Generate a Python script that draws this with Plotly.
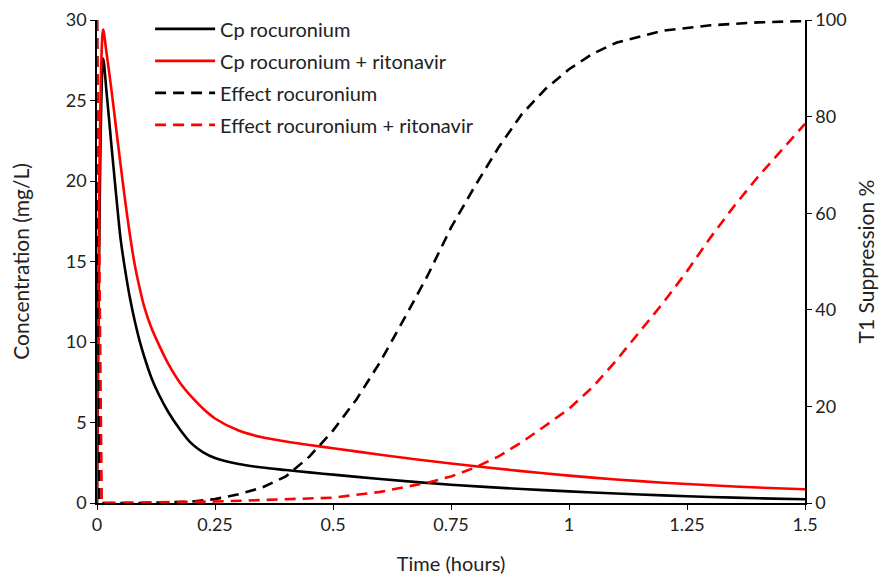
import plotly.graph_objects as go

# Plasma concentration (mg/L)
t_cp = [0, 0.013, 0.02, 0.03, 0.04, 0.05, 0.06, 0.07, 0.08, 0.09, 0.1, 0.115, 0.13,
        0.15, 0.175, 0.2, 0.225, 0.25, 0.3, 0.35, 0.4, 0.45, 0.5, 0.6, 0.75, 0.9,
        1.0, 1.1, 1.2, 1.3, 1.4, 1.5]
cp_roc = [0, 27.6, 25.6, 22.4, 19.3, 16.4, 14.4, 12.7, 11.3, 10.1, 9.1, 7.8, 6.8,
          5.7, 4.6, 3.7, 3.15, 2.8, 2.42, 2.2, 2.05, 1.9, 1.76, 1.49, 1.13, 0.87,
          0.72, 0.59, 0.475, 0.375, 0.295, 0.23]
cp_roc_rtv = [0, 29.4, 28.0, 25.8, 23.4, 21.0, 18.7, 16.6, 14.8, 13.4, 12.2, 10.9, 9.9,
              8.7, 7.5, 6.6, 5.85, 5.25, 4.5, 4.08, 3.82, 3.6, 3.4, 3.0, 2.45, 1.98,
              1.7, 1.46, 1.26, 1.1, 0.96, 0.85]

# T1 suppression (%)
t_eff_roc = [0, 0.005, 0.1, 0.2, 0.25, 0.3, 0.35, 0.4, 0.45, 0.5, 0.55, 0.6, 0.65,
             0.7, 0.75, 0.8, 0.85, 0.9, 0.95, 1.0, 1.05, 1.1, 1.2, 1.3, 1.4, 1.5]
eff_roc = [100, 0, 0, 0.3, 0.8, 1.8, 3.2, 5.5, 9.6, 15.0, 21.5, 29.2, 38.0,
           47.0, 57.0, 65.5, 73.5, 80.5, 85.7, 89.8, 93.0, 95.3, 97.8, 98.9, 99.5, 99.8]
t_eff_rtv = [0, 0.01, 0.25, 0.5, 0.6, 0.7, 0.75, 0.8, 0.85, 0.9, 0.95, 1.0, 1.05,
             1.1, 1.15, 1.2, 1.25, 1.3, 1.35, 1.4, 1.45, 1.5]
eff_rtv = [100, 0, 0.3, 1.1, 2.3, 4.2, 5.5, 7.3, 9.6, 12.6, 16.0, 19.5, 24.0,
           29.5, 35.5, 41.5, 48.0, 55.0, 61.5, 67.5, 73.0, 78.5]

x_ticks = [0, 0.25, 0.5, 0.75, 1, 1.25, 1.5]
x_tick_labels = ["0", "0.25", "0.5", "0.75", "1", "1.25", "1.5"]
y_ticks = [0, 5, 10, 15, 20, 25, 30]
y2_ticks = [0, 20, 40, 60, 80, 100]

FONT = "Lato"
TXT = "#222222"

fig = go.Figure()
fig.add_trace(go.Scatter(x=t_cp, y=cp_roc, mode="lines", name="Cp rocuronium", legendgroup="a",
                         line=dict(color="black", width=2.6, shape="spline", smoothing=0.8)))
fig.add_trace(go.Scatter(x=t_cp, y=cp_roc_rtv, mode="lines", name="Cp rocuronium + ritonavir",
                         legendgroup="b",
                         line=dict(color="#ff0000", width=2.6, shape="spline", smoothing=0.8)))
fig.add_trace(go.Scatter(x=t_eff_roc, y=eff_roc, mode="lines", name="Effect rocuronium",
                         legendgroup="c",
                         line=dict(color="black", width=2.6, dash="11px,7px"), yaxis="y2"))
fig.add_trace(go.Scatter(x=t_eff_rtv, y=eff_rtv, mode="lines", name="Effect rocuronium + ritonavir",
                         legendgroup="d",
                         line=dict(color="#ff0000", width=2.6, dash="11px,7px"), yaxis="y2"))

axis_common = dict(showgrid=False, zeroline=False, showline=True, linecolor="black",
                   linewidth=1.5, ticks="outside", ticklen=5, tickcolor="black",
                   automargin=False,
                   tickfont=dict(family=FONT, size=18, color=TXT))

fig.update_layout(
    width=883, height=568,
    margin=dict(l=89, r=86, t=12, b=73, autoexpand=False),
    paper_bgcolor="white", plot_bgcolor="white",
    font=dict(family=FONT, size=18, color=TXT),
    xaxis=dict(range=[0, 1.5], tickvals=x_ticks, ticktext=x_tick_labels,
               title=dict(text="Time (hours)", font=dict(family=FONT, size=20, color=TXT), standoff=23),
               **axis_common),
    yaxis=dict(range=[0, 30], tickvals=y_ticks,
               title=dict(text="Concentration (mg/L)", font=dict(family=FONT, size=21, color=TXT), standoff=38),
               **axis_common),
    yaxis2=dict(range=[0, 100], tickvals=y2_ticks, overlaying="y", side="right",
                title=dict(text="T1 Suppression %", font=dict(family=FONT, size=21, color=TXT), standoff=14),
                **axis_common),
    legend=dict(x=0.075, y=1.022, xanchor="left", yanchor="top", bgcolor="rgba(0,0,0,0)",
                font=dict(family=FONT, size=20, color=TXT), tracegroupgap=3,
                itemwidth=60),
    showlegend=True,
)

fig.write_html("out.html")
